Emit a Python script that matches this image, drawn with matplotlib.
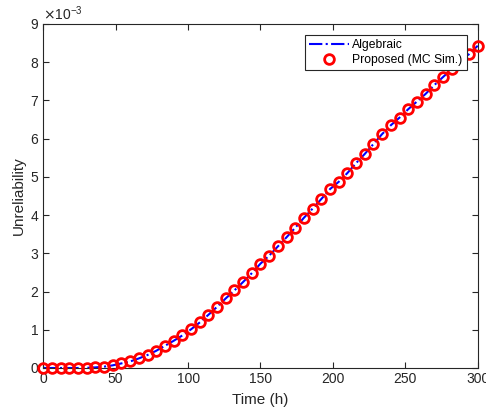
import matplotlib
matplotlib.use("Agg")
import matplotlib.pyplot as plt
from matplotlib.ticker import ScalarFormatter

# Time (h) and unreliability values
time_h = list(range(0, 301, 6))
unreliability = [
    0.0, 0.0, 0.0, 0.0, 0.0, 0.005, 0.015, 0.035, 0.07, 0.12,
    0.17, 0.25, 0.34, 0.45, 0.58, 0.71, 0.85, 1.01, 1.19, 1.39,
    1.60, 1.82, 2.03, 2.25, 2.48, 2.73, 2.94, 3.18, 3.42, 3.67,
    3.93, 4.17, 4.42, 4.68, 4.87, 5.10, 5.36, 5.60, 5.86, 6.12,
    6.35, 6.55, 6.77, 6.97, 7.17, 7.40, 7.61, 7.82, 8.00, 8.21,
    8.43,
]
unreliability = [v * 1e-3 for v in unreliability]

plt.rcParams["font.family"] = ["Liberation Sans", "DejaVu Sans"]
plt.rcParams["font.size"] = 9.5

fig = plt.figure(figsize=(4.86, 4.13), dpi=100)
ax = fig.add_axes([0.089, 0.109, 0.894, 0.833])

ax.plot(time_h, unreliability, color="blue", linestyle="-.", linewidth=1.5,
        label="Algebraic")
ax.plot(time_h, unreliability, linestyle="none", marker="o", markersize=7,
        markerfacecolor="none", markeredgecolor="red", markeredgewidth=2,
        label="Proposed (MC Sim.)", clip_on=False, zorder=3)

ax.set_xlim(0, 300)
ax.set_ylim(0, 0.009)
ax.set_xticks(range(0, 301, 50))
ax.set_yticks([i * 1e-3 for i in range(10)])

fmt = ScalarFormatter(useMathText=True)
fmt.set_powerlimits((0, 0))
ax.yaxis.set_major_formatter(fmt)

text_color = "#262626"
ax.tick_params(direction="in", top=True, right=True, length=4, width=0.8,
               colors=text_color, labelcolor=text_color, pad=3, labelsize=10)
ax.yaxis.get_offset_text().set_fontsize(10)
ax.yaxis.get_offset_text().set_color(text_color)
for spine in ax.spines.values():
    spine.set_color(text_color)
    spine.set_linewidth(0.8)

ax.set_xlabel("Time (h)", fontsize=11, color=text_color, labelpad=5)
ax.set_ylabel("Unreliability", fontsize=11, color=text_color, labelpad=3)

leg = ax.legend(loc="upper right", bbox_to_anchor=(0.975, 0.968),
                borderaxespad=0, fancybox=False, framealpha=1,
                edgecolor=text_color, borderpad=0.35, handlelength=3.3,
                handletextpad=0.3, labelspacing=0.25, fontsize=8.7)
leg.get_frame().set_linewidth(0.8)

fig.savefig("out.png", dpi=100)
